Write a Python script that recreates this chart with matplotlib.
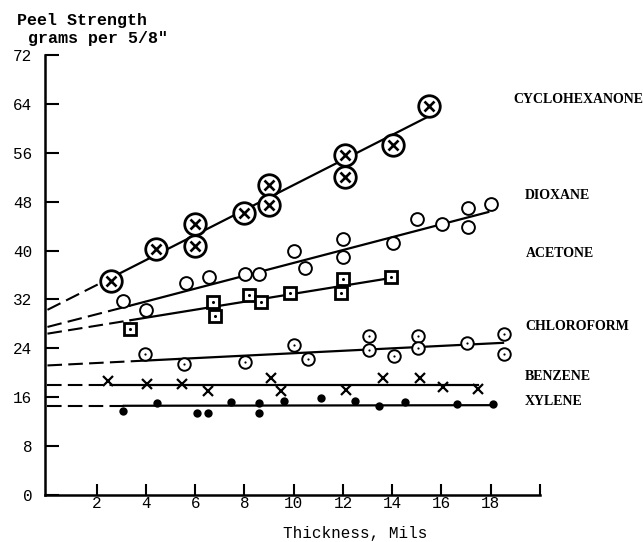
import matplotlib
matplotlib.use("Agg")
import matplotlib.pyplot as plt

# Peel strength (grams per 5/8") against film thickness (mils), one series per solvent
cyc_x = [2.56, 4.42, 6.0, 6.0, 8.0, 8.98, 8.98, 12.09, 12.09, 14.05, 15.5]
cyc_y = [35.1, 40.3, 44.4, 40.7, 46.2, 50.65, 47.4, 55.6, 52.1, 57.2, 63.6]

diox_x = [3.07, 4.0, 5.64, 6.55, 8.03, 8.57, 10.0, 10.47, 12.02, 12.02,
          14.05, 15.02, 16.01, 17.09, 17.09, 18.01]
diox_y = [31.8, 30.3, 34.7, 35.6, 36.1, 36.1, 40.0, 37.2, 41.9, 38.9,
          41.2, 45.2, 44.4, 47.0, 43.9, 47.7]

acet_x = [3.37, 6.72, 6.79, 8.19, 8.67, 9.86, 12.02, 11.93, 13.96]
acet_y = [27.2, 31.6, 29.3, 32.7, 31.6, 33.1, 35.4, 33.0, 35.7]

chlo_x = [3.98, 5.56, 8.03, 10.02, 10.56, 13.06, 13.06, 14.09, 15.04, 15.04,
          17.05, 18.54, 18.54]
chlo_y = [23.0, 21.4, 21.7, 24.5, 22.2, 26.0, 23.8, 22.8, 26.0, 24.1,
          24.8, 26.4, 23.0]

benz_x = [2.46, 4.04, 5.46, 6.52, 9.09, 9.48, 12.12, 13.64, 15.13, 16.05, 17.5]
benz_y = [18.7, 18.1, 18.1, 17.0, 19.1, 17.0, 17.2, 19.1, 19.1, 17.6, 17.3]

xyl_x = [3.07, 4.45, 6.07, 6.5, 7.45, 8.57, 8.57, 9.59, 11.10, 12.49, 13.47,
         14.52, 16.62, 18.11]
xyl_y = [13.7, 15.0, 13.5, 13.5, 15.2, 15.0, 13.5, 15.4, 15.8, 15.4, 14.6,
         15.2, 14.9, 14.9]

# Trend lines: [axis intercept, start of fitted range, end of fitted range]
cyc_fit_x, cyc_fit_y = [0, 2.56, 15.5], [30.3, 35.5, 62.0]
diox_fit_x, diox_fit_y = [0, 3.37, 17.9], [27.5, 31.0, 46.3]
acet_fit_x, acet_fit_y = [0, 3.37, 13.78], [26.4, 28.6, 35.4]
chlo_fit_x, chlo_fit_y = [0, 4.0, 18.5], [21.2, 22.0, 24.9]
benz_fit_x, benz_fit_y = [0, 2.62, 17.5], [18.0, 18.0, 18.0]
xyl_fit_x, xyl_fit_y = [0, 3.1, 18.1], [14.6, 14.6, 14.7]

solvents = ["CYCLOHEXANONE", "DIOXANE", "ACETONE", "CHLOROFORM", "BENZENE", "XYLENE"]
label_y_px = [103, 199, 257, 330, 380, 405]
label_x_px = [513, 525, 526, 525, 525, 525]

x_ticks = [2, 4, 6, 8, 10, 12, 14, 16, 18, 20]
x_tick_labels = ["2", "4", "6", "8", "10", "12", "14", "16", "18", ""]
y_ticks = [0, 8, 16, 24, 32, 40, 48, 56, 64, 72]

W, H = 643, 542
fig = plt.figure(figsize=(W / 100, H / 100), dpi=100)
fig.patch.set_facecolor("white")
ax = fig.add_axes([45 / W, 47 / H, 495 / W, 440 / H])
ax.set_xlim(-0.1, 20)
ax.set_ylim(0, 72)

mono = "Liberation Mono"
serif = "Liberation Serif"


def trend(fx, fy):
    ax.plot(fx[:2], fy[:2], color="black", lw=1.5, dashes=(7, 3),
            dash_capstyle="butt", zorder=2)
    ax.plot(fx[1:], fy[1:], color="black", lw=1.6, zorder=2)


for fx, fy in [(cyc_fit_x, cyc_fit_y), (diox_fit_x, diox_fit_y),
               (acet_fit_x, acet_fit_y), (chlo_fit_x, chlo_fit_y),
               (benz_fit_x, benz_fit_y), (xyl_fit_x, xyl_fit_y)]:
    trend(fx, fy)

# cyclohexanone: circled X
ax.plot(cyc_x, cyc_y, ls="none", marker="o", ms=15.5, mew=2.0,
        mfc="white", mec="black", zorder=4)
ax.plot(cyc_x, cyc_y, ls="none", marker="x", ms=6.5, mew=1.9,
        color="black", zorder=5)

# dioxane: open circle
ax.plot(diox_x, diox_y, ls="none", marker="o", ms=9.2, mew=1.4,
        mfc="white", mec="black", zorder=4)

# acetone: dotted square
ax.plot(acet_x, acet_y, ls="none", marker="s", ms=8.0, mew=2.0,
        mfc="white", mec="black", zorder=4)
ax.plot(acet_x, acet_y, ls="none", marker="o", ms=2.2, mew=0,
        color="black", zorder=5)

# chloroform: dotted circle
ax.plot(chlo_x, chlo_y, ls="none", marker="o", ms=9.0, mew=1.4,
        mfc="white", mec="black", zorder=4)
ax.plot(chlo_x, chlo_y, ls="none", marker="o", ms=1.6, mew=0,
        color="black", zorder=5)

# benzene: X
ax.plot(benz_x, benz_y, ls="none", marker="x", ms=7, mew=1.6,
        color="black", zorder=4)

# xylene: filled dot
ax.plot(xyl_x, xyl_y, ls="none", marker="o", ms=6, mew=0,
        color="black", zorder=4)

# axes styling
for side in ["top", "right"]:
    ax.spines[side].set_visible(False)
for side in ["left", "bottom"]:
    ax.spines[side].set_linewidth(1.8)

ax.set_xticks(x_ticks)
ax.set_xticklabels(x_tick_labels, fontfamily=mono, fontsize=11.5)
ax.set_yticks(y_ticks)
ax.set_yticklabels([str(v) for v in y_ticks], fontfamily=mono, fontsize=11.5)
ax.tick_params(axis="x", direction="in", length=8, width=1.5, pad=1)
ax.tick_params(axis="y", direction="in", length=10, width=1.5, pad=9)

# axis titles
fig.text(17 / W, 1 - 25 / H, "Peel Strength", fontfamily=mono, fontsize=12,
         fontweight="bold", ha="left", va="baseline")
fig.text(28 / W, 1 - 42.5 / H, 'grams per 5/8"', fontfamily=mono, fontsize=12,
         fontweight="bold", ha="left", va="baseline")
fig.text(355 / W, 1 - 538 / H, "Thickness, Mils", fontfamily=mono, fontsize=11.5,
         ha="center", va="baseline")

# solvent names to the right of each series
for name, lx, ly in zip(solvents, label_x_px, label_y_px):
    fig.text(lx / W, 1 - ly / H, name, fontfamily=serif, fontsize=10,
             fontweight="bold", ha="left", va="baseline")

fig.savefig("out.png", dpi=100, facecolor="white")
